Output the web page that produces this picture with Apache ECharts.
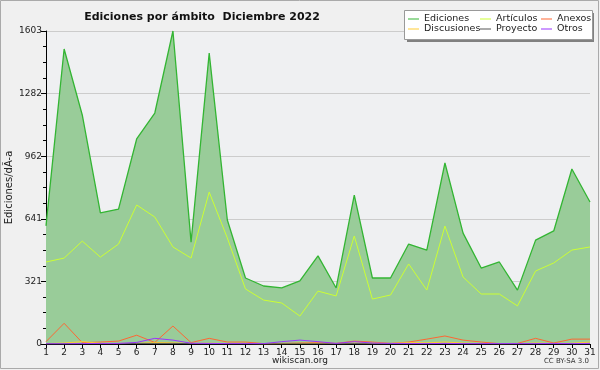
<!DOCTYPE html>
<html><head><meta charset="utf-8">
<script src="https://cdn.jsdelivr.net/npm/echarts@6/dist/echarts.min.js"></script>
<style>html,body{margin:0;padding:0;background:#f0f0f0}#c{width:600px;height:370px}</style>
</head><body><div id="c"></div>
<script>
const days = ['1','2','3','4','5','6','7','8','9','10','11','12','13','14','15','16','17','18','19','20','21','22','23','24','25','26','27','28','29','30','31'];
const yTicks = ['0','321','641','962','1282','1603'];
const ediciones = [605,1511,1173,671,691,1050,1183,1603,522,1490,635,338,297,287,323,451,287,763,338,338,512,481,927,568,389,420,276,532,579,896,727];
const articulos = [420,440,527,445,512,712,650,497,440,778,543,282,225,210,143,271,246,553,230,251,410,276,604,343,256,256,195,374,415,481,497];
const anexos = [12,106,7,10,15,45,8,92,7,29,10,10,2,3,5,7,3,15,10,3,10,25,41,20,10,2,3,29,5,25,25];
const discusiones = [2,5,12,4,3,3,8,6,3,4,3,3,1,2,3,4,2,5,5,3,8,6,10,5,3,2,2,5,3,4,10];
const proyecto = [1,1,1,1,1,3,3,3,2,1,1,1,1,1,1,1,1,2,1,1,1,1,2,1,1,1,1,1,1,1,1];
const otros = [1,1,2,3,3,8,29,20,4,3,2,2,2,12,20,12,3,12,5,3,3,2,3,2,2,2,2,2,3,2,3];

const yMax = 1603, yInt = yMax/5;
const chart = echarts.init(document.getElementById('c'), null, {renderer:'canvas'});
const F = 'DejaVu Sans';
function line(name, data, color, z, w){
  return {name, type:'line', data, symbol:'none', smooth:false, z:z||3,
    lineStyle:{color, width:w||1}, itemStyle:{color}};
}
const series = [
  Object.assign(line('Ediciones', ediciones, '#33b533', 2, 1.3), {areaStyle:{color:'#99cc99', opacity:1}}),
  line('Artículos', articulos, '#ccff33'),
  line('Anexos', anexos, '#ff6633'),
  line('Discusiones', discusiones, '#ffcc33'),
  line('Proyecto', proyecto, '#555555'),
  line('Otros', otros, '#9933ff'),
];
const legBase = {orient:'vertical', icon:'rect', itemWidth:11, itemHeight:1, itemGap:0, padding:0,
  textStyle:{fontFamily:F, fontSize:9.5, color:'#222', padding:[0,0,0,0]}, top:14, selectedMode:false, z:60};
chart.setOption({
  backgroundColor:'#f0f0f0',
  animation:false,
  title:{text:'Ediciones por ámbito  Diciembre 2022', left:197, top:7, textAlign:'center',
    textStyle:{fontFamily:F, fontSize:11, fontWeight:'bold', color:'#111'}},
  legend:[
    Object.assign({}, legBase, {left:408, data:['Ediciones','Discusiones']}),
    Object.assign({}, legBase, {left:480, data:['Artículos','Proyecto']}),
    Object.assign({}, legBase, {left:541, data:['Anexos','Otros']}),
  ],
  grid:{left:46, right:10, top:31, bottom:26, show:true, backgroundColor:'#eff0f2', borderWidth:0, outerBoundsMode:'none', containLabel:false},
  xAxis:{type:'category', data:days, boundaryGap:false,
    axisLine:{lineStyle:{color:'#000'}}, axisTick:{show:true, length:4, lineStyle:{color:'#000'}, alignWithLabel:true},
    axisLabel:{fontFamily:F, fontSize:9, color:'#222', margin:4, interval:0}},
  yAxis:{type:'value', min:0, max:yMax, interval:yInt,
    name:'Ediciones/dÃ-a', nameLocation:'middle', nameGap:32, nameMoveOverlap:false,
    nameTextStyle:{fontFamily:F, fontSize:10, color:'#222'},
    axisLine:{show:true, lineStyle:{color:'#000'}}, axisTick:{show:true, length:5, lineStyle:{color:'#000'}},
    minorTick:{show:true, splitNumber:4, length:3, lineStyle:{color:'#000'}},
    splitLine:{show:true, lineStyle:{color:'#cccccc'}},
    axisLabel:{fontFamily:F, fontSize:9, color:'#222', margin:4,
      formatter:v=>yTicks[Math.round(v/yInt)]}},
  graphic:[
    {type:'rect', shape:{x:0.5,y:0.5,width:598,height:368}, style:{fill:null, stroke:'#aaaaaa', lineWidth:1}, z:-1, silent:true},
    {type:'rect', shape:{x:407,y:13,width:187,height:29}, style:{fill:'#808080'}, z:50, silent:true},
    {type:'rect', shape:{x:404.5,y:10.5,width:188,height:29}, style:{fill:'#ffffff', stroke:'#999999', lineWidth:1}, z:51, silent:true},
    {type:'text', left:'center', top:356, style:{text:'wikiscan.org', fontFamily:F, fontSize:9, fill:'#222'}, z:60},
    {type:'text', right:11, top:358, style:{text:'CC BY-SA 3.0', fontFamily:F, fontSize:7, fill:'#333'}, z:60},
  ],
  series
});
</script></body></html>
